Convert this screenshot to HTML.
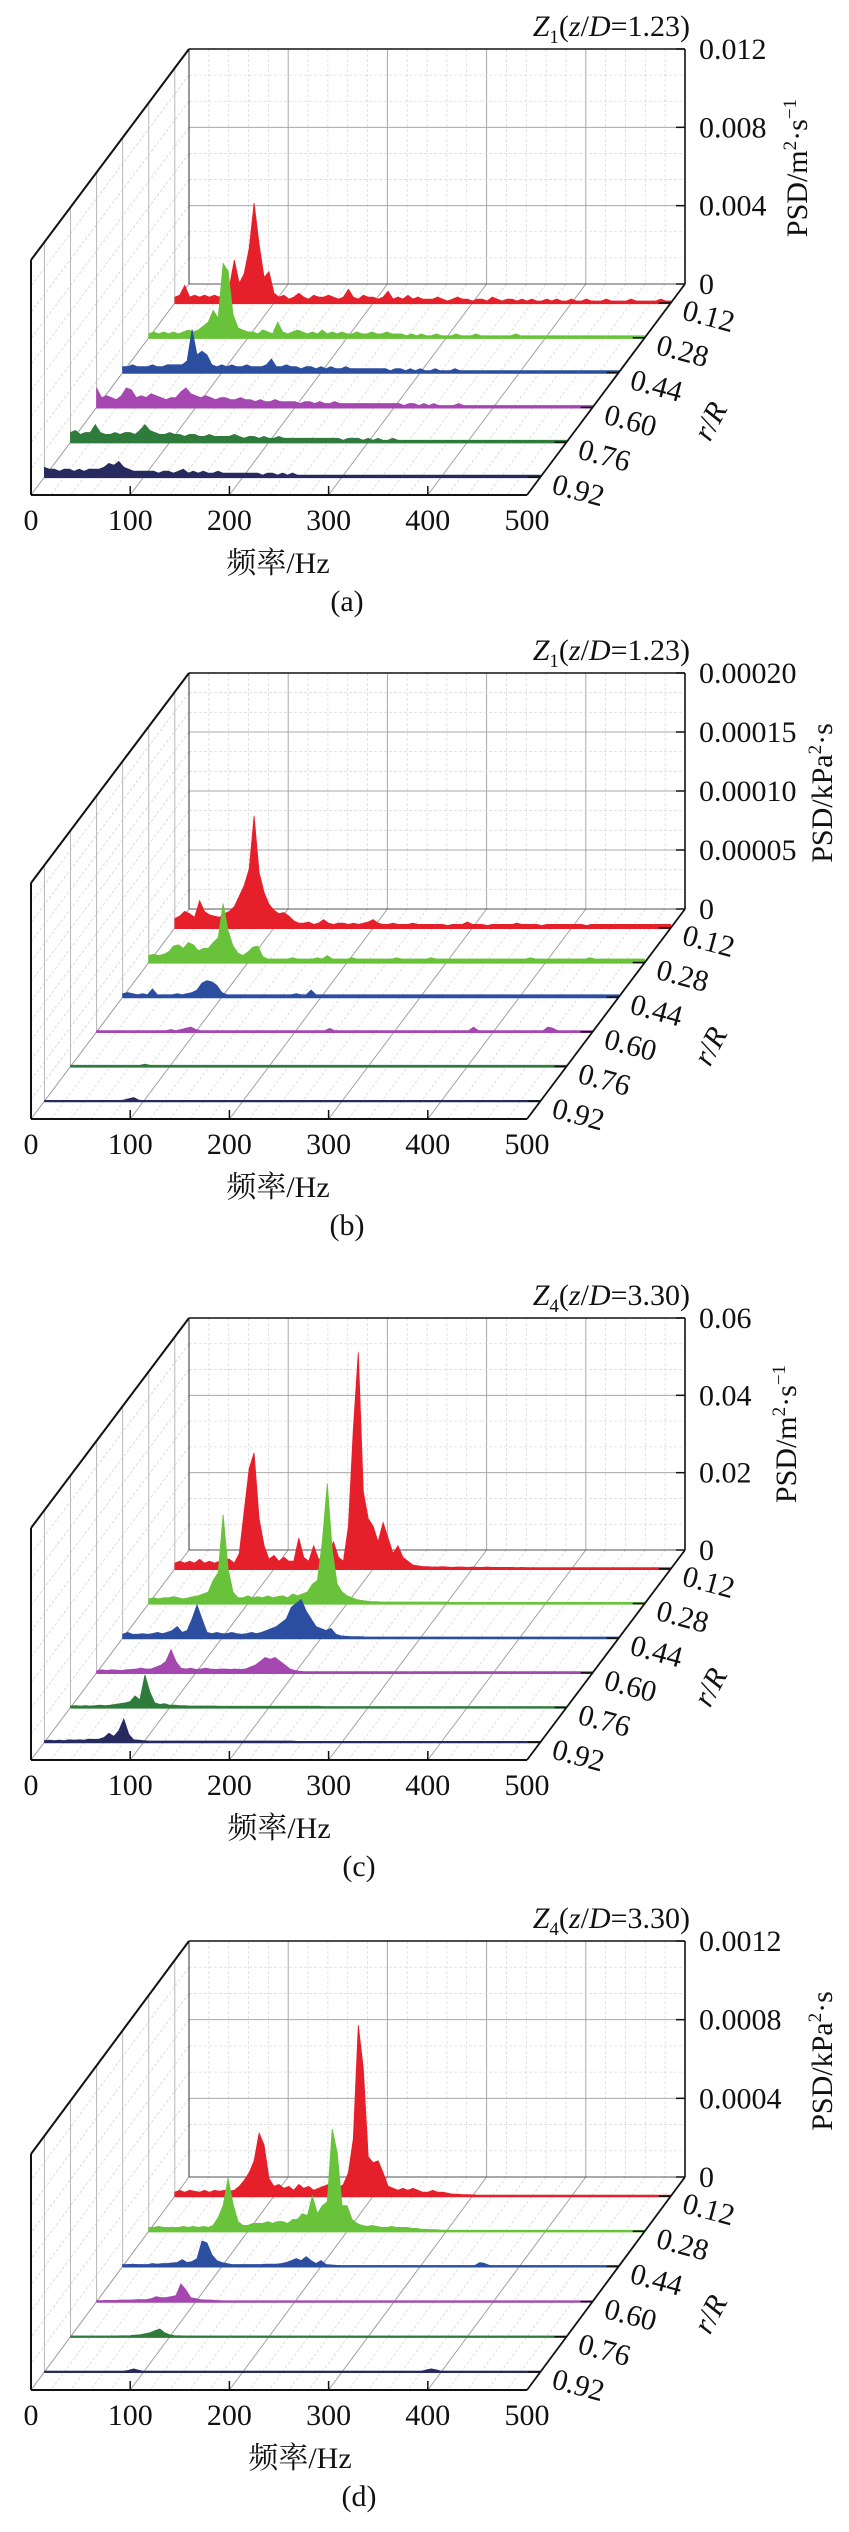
<!DOCTYPE html>
<html><head><meta charset="utf-8">
<style>
html,body{margin:0;padding:0;background:#fff;}
svg{display:block;}
text{font-family:"Liberation Serif","Noto Serif CJK SC",serif;fill:#111;}
.cjk{font-family:"Liberation Serif","Noto Serif CJK SC","Noto Sans CJK SC",serif;}
</style></head>
<body>
<svg id="fig" xmlns="http://www.w3.org/2000/svg" width="849" height="2532" viewBox="0 0 849 2532"></svg>
<script>
// ---------- DATA (frequency bins 0..500 Hz every 5 Hz) ----------
const FREQ_STEP = 5;
const rRLabels = ['0.12','0.28','0.44','0.60','0.76','0.92'];
const xTickLabels = ['0','100','200','300','400','500'];
const seriesColors = ['#e5202b','#68c23a','#2c4ea1','#a447b0','#2e7b3b','#262a5e'];

// Panel (a) velocity PSD, units 1e-4 m^2/s
const aTicks = ['0','0.004','0.008','0.012'];
const aYMax = 120;
const aRed = [3,4,9,3,4,3,4,3,4,3,6,8,22,10,15,28,51,30,13,16,5,
 3,4,2,3,5,3,2,4,3,3,4,3,2,3,7,3,2,4,3,3,2,3,6,2,3,2,4,2,3,2,
 2,2,3,2,1,2,3,2,2,1,2,2,1,3,2,1,2,2,1,2,1,2,1,1,2,1,2,1,1,2,1,1,2,1,1,1,2,1,1,1,1,2,1,1,1,1,1,2,1,1];
const aGreen = [2,3,2,3,2,3,2,3,4,3,4,6,8,14,10,38,34,12,5,4,3,
 3,2,4,3,2,8,3,2,3,4,3,2,3,2,4,2,3,2,3,2,2,3,2,2,3,2,2,3,2,2,
 2,1,2,1,2,1,1,2,1,1,1,2,1,1,1,2,1,1,1,1,1,1,1,2,1,1,1,1,1,1,1,1,1,1,1,1,1,1,1,1,1,1,1,1,1,1,1,1,1,1];
const aBlue = [3,3,4,3,3,3,4,3,3,4,4,4,4,6,22,9,11,9,4,3,4,
 3,4,3,3,4,3,3,3,4,7,3,3,4,3,3,2,3,3,2,3,2,3,2,2,3,2,2,2,2,2,
 2,2,2,1,2,2,1,2,1,2,1,1,2,1,1,1,2,1,1,1,1,1,1,1,1,1,1,1,1,1,1,1,1,1,1,1,1,1,1,1,1,1,1,1,1,1,1,1,1,1];
const aPurple = [10,5,6,5,4,6,10,9,5,6,5,7,6,5,4,5,5,8,10,7,6,
 5,6,5,4,5,5,4,4,5,4,4,3,4,3,3,4,3,3,3,3,2,3,3,2,3,2,2,3,2,2,
 2,2,2,2,2,2,2,2,2,2,2,1,2,2,1,2,1,2,1,1,1,1,2,1,1,1,1,1,1,1,1,1,1,1,1,1,1,1,1,1,1,1,1,1,1,1,1,1,1,1];
const aDkGreen = [5,6,4,5,5,9,5,4,4,5,4,5,5,4,6,9,6,5,4,4,5,
 4,4,3,4,4,3,3,4,3,3,3,3,4,3,2,3,3,2,3,2,2,3,2,2,2,2,2,2,2,2,
 2,2,2,2,1,2,2,2,1,2,1,2,1,1,2,1,1,1,1,1,1,1,1,1,1,1,1,1,1,1,1,1,1,1,1,1,1,1,1,1,1,1,1,1,1,1,1,1,1,1];
const aNavy = [5,4,4,3,4,4,3,4,3,4,4,4,5,7,6,8,5,4,3,3,3,
 3,3,2,3,3,2,3,4,2,3,2,3,2,2,3,2,2,2,2,2,2,2,2,1,2,2,1,2,1,2,
 1,1,1,1,1,1,1,1,1,1,1,1,1,1,1,1,1,1,1,1,1,1,1,1,1,1,1,1,1,1,1,1,1,1,1,1,1,1,1,1,1,1,1,1,1,1,1,1,1,1];

// Panel (b) pressure PSD, units 1e-6 kPa^2·s
const bTicks = ['0','0.00005','0.00010','0.00015','0.00020'];
const bYMax = 200;
const bRed = [8,10,14,12,9,23,14,11,10,9,12,14,18,27,36,50,95,47,30,20,15,
 12,13,10,6,4,4,5,3,4,7,4,3,4,4,3,4,3,4,5,7,4,3,3,4,3,3,3,4,3,3,
 3,3,3,3,2,3,3,3,5,3,3,3,2,3,3,3,3,3,4,3,3,3,3,2,3,3,3,3,3,3,3,3,2,3,3,3,3,3,3,3,3,3,3,3,3,3,3,3,3,3];
const bGreen = [6,7,6,7,9,14,15,12,17,15,10,12,12,17,21,50,27,14,8,6,9,
 13,14,5,3,3,3,3,3,4,3,3,3,3,4,3,6,3,3,3,3,4,3,3,3,3,3,3,3,3,4,
 3,3,3,3,3,3,4,3,3,3,3,3,3,3,3,3,3,3,3,3,3,3,3,3,3,3,4,3,3,3,3,3,3,3,3,3,3,3,4,3,3,3,3,3,3,3,3,3,3,3];
const bBlue = [3,4,3,2,3,2,7,2,2,2,2,3,2,3,4,6,12,14,13,10,4,
 2,2,2,2,2,2,2,2,2,2,2,2,2,2,3,2,2,6,2,2,2,2,2,2,2,2,2,2,2,2,
 2,2,2,2,2,2,2,2,2,2,2,2,2,2,2,2,2,2,2,2,2,2,2,2,2,2,2,2,2,2,2,2,2,2,2,2,2,2,2,2,2,2,2,2,2,2,2,2,2,2];
const bPurple = [1,1,1,1,1,1,1,1,1,1,1,1,1,1,1,2,1,2,3,4,2,
 1,1,1,1,1,1,1,1,1,1,1,1,1,1,1,1,1,1,1,1,1,1,1,1,1,1,3,1,1,1,
 1,1,1,1,1,1,1,1,1,1,1,1,1,1,1,1,1,1,1,1,1,1,1,1,1,4,1,1,1,1,1,1,1,1,1,1,1,1,1,1,4,3,1,1,1,1,1,1,1,1];
const bDkGreen = [1,1,1,1,1,1,1,1,1,1,1,1,1,1,1,2,1,1,1,1,1,
 1,1,1,1,1,1,1,1,1,1,1,1,1,1,1,1,1,1,1,1,1,1,1,1,1,1,1,1,1,1,
 1,1,1,1,1,1,1,1,1,1,1,1,1,1,1,1,1,1,1,1,1,1,1,1,1,1,1,1,1,1,1,1,1,1,1,1,1,1,1,1,1,1,1,1,1,1,1,1,1,1];
const bNavy = [.5,.5,.5,.5,.5,.5,.5,.5,.5,.5,.5,.5,.5,.5,.5,.5,1,2,3,1,.5,
 .5,.5,.5,.5,.5,.5,.5,.5,.5,.5,.5,.5,.5,.5,.5,.5,.5,.5,.5,.5,.5,.5,.5,.5,.5,.5,.5,.5,.5,.5,
 .5,.5,.5,.5,.5,.5,.5,.5,.5,.5,.5,.5,.5,.5,.5,.5,.5,.5,.5,.5,.5,.5,.5,.5,.5,.5,.5,.5,.5,.5,.5,.5,.5,.5,.5,.5,.5,.5,.5,.5,.5,.5,.5,.5,.5,.5,.5,.5,.5,.5];

// Panel (c) velocity PSD, units 1e-3 m^2/s
const cTicks = ['0','0.02','0.04','0.06'];
const cYMax = 60;
const cRed = [1.5,2,1.5,2,1.5,2.5,1.5,2,1.5,2,2.5,2.5,1.5,4,15,26,30,13,6,2.5,3.5,
 2,3,2,2,8,3,2,6,2.5,3,4,7,3,2,11,36,56,20,13,11,7,12,8,4,6,3,2,1,.8,.6,
 .6,.5,.5,.6,.5,.4,.5,.5,.4,.5,.4,.4,.5,.4,.4,.4,.4,.4,.3,.4,.3,.3,.3,.3,.3,.3,.3,.3,.3,.3,.3,.3,.3,.3,.3,.3,.3,.3,.3,.3,.3,.3,.3,.3,.3,.3,.3,.3,.3,.3];
const cGreen = [1.2,1.5,1.2,1.5,1.5,1.8,1.5,1.2,1.5,1.8,2,2.5,3,6,8,23,9,3,1.5,1.5,2,
 1.5,1.8,1.5,2,1.5,1.8,2,1.5,2.5,2,2.5,3,5,6,16,31,14,5,3,2,1.5,1,.8,.6,.5,.5,.4,.4,.4,.4,
 .4,.4,.4,.4,.4,.4,.4,.4,.4,.4,.3,.3,.3,.3,.3,.3,.3,.3,.3,.3,.3,.3,.3,.3,.3,.3,.3,.3,.3,.3,.3,.3,.3,.3,.3,.3,.3,.3,.3,.3,.3,.3,.3,.3,.3,.3,.3,.3,.3,.3];
const cBlue = [1,1.5,1,1,1.2,1,1.2,1.5,1.2,1.5,2,3,1.5,2,5,8.6,5,1.5,1.2,1.5,1.2,
 1.2,1.5,1.2,1,1.2,1.5,1.2,1.5,2,2.5,3,4,5,8,9,10,7,5,3,2.5,2,2.5,1,.6,.5,.4,.4,.4,.3,.3,
 .3,.3,.3,.3,.3,.3,.3,.3,.3,.3,.3,.3,.3,.3,.3,.3,.3,.3,.3,.3,.3,.3,.3,.3,.3,.3,.3,.3,.3,.3,.3,.3,.3,.3,.3,.3,.3,.3,.3,.3,.3,.3,.3,.3,.3,.3,.3,.3,.3,.3];
const cPurple = [.5,.8,.6,.8,.7,.6,.8,.9,1,1.2,1,1,1.5,2,3,6,3,1.2,1,1.2,.9,
 1,1.2,1,.9,1,1,.9,1,.9,1,1.5,2,3,4,3.5,4,3,2,1,.6,.4,.3,.3,.3,.3,.3,.3,.3,.3,.3,
 .3,.3,.3,.3,.3,.3,.3,.3,.3,.3,.3,.3,.3,.3,.3,.3,.3,.3,.3,.3,.3,.3,.3,.3,.3,.3,.3,.3,.3,.3,.3,.3,.3,.3,.3,.3,.3,.3,.3,.3,.3,.3,.3,.3,.3,.3,.3,.3,.3,.3];
const cDkGreen = [.4,.5,.4,.5,.4,.5,.6,.5,.6,.8,1,1.2,1.5,3,2,8.4,4,1.2,.8,1,.6,
 .6,.5,.5,.4,.4,.4,.4,.4,.4,.3,.3,.3,.3,.3,.3,.3,.3,.3,.3,.3,.3,.3,.3,.3,.3,.3,.3,.3,.3,.3,
 .2,.2,.2,.2,.2,.2,.2,.2,.2,.2,.2,.2,.2,.2,.2,.2,.2,.2,.2,.2,.2,.2,.2,.2,.2,.2,.2,.2,.2,.2,.2,.2,.2,.2,.2,.2,.2,.2,.2,.2,.2,.2,.2,.2,.2,.2,.2,.2,.2,.2];
const cNavy = [.4,.5,.4,.5,.4,.6,.5,.6,.5,.8,.7,.8,1.2,2.3,1.5,3,6,2,.6,.5,.4,
 .3,.3,.3,.3,.3,.3,.3,.3,.3,.3,.3,.3,.3,.3,.3,.3,.3,.3,.3,.3,.3,.3,.3,.3,.3,.3,.3,.3,.3,.3,
 .2,.2,.2,.2,.2,.2,.2,.2,.2,.2,.2,.2,.2,.2,.2,.2,.2,.2,.2,.2,.2,.2,.2,.2,.2,.2,.2,.2,.2,.2,.2,.2,.2,.2,.2,.2,.2,.2,.2,.2,.2,.2,.2,.2,.2,.2,.2,.2,.2,.2];

// Panel (d) pressure PSD, units 1e-5 kPa^2·s
const dTicks = ['0','0.0004','0.0008','0.0012'];
const dYMax = 120;
const dRed = [2,3,2,3,2.5,2,3,2,3,2.5,3,2.5,3,5,8,12,18,32,26,9,5,
 6,4,5,3,6,4,5,3,4,5,6,5,4,6,12,29,87,65,20,17,18,12,5,4,3,4,3,4,3,2,
 2,3,2,2,1.5,1,1,.8,.8,.7,.5,.5,.5,.5,.5,.5,.5,.5,.5,.5,.5,.5,.5,.5,.5,.5,.5,.5,.5,.5,.5,.5,.5,.5,.5,.5,.5,.5,.5,.5,.5,.5,.5,.5,.5,.5,.5,.5,.5,.5];
const dGreen = [2,2,2.5,2,2,2,2,2.5,2,2.5,2,2.5,2,3,7,13,27,14,5,3,3,
 4,4,4,5,4,5,5,4,6,6,9,8,18,9,13,15,52,40,13,13,6,4,3,2.5,3,2.5,2,2,2.5,2,
 2,2,1.5,1.5,1,1,.8,.8,.6,.6,.5,.5,.5,.5,.5,.5,.5,.5,.5,.5,.5,.5,.5,.5,.5,.5,.5,.5,.5,.5,.5,.5,.5,.5,.5,.5,.5,.5,.5,.5,.5,.5,.5,.5,.5,.5,.5,.5,.5,.5];
const dBlue = [1,1,1.2,1,1,1,1.5,1.2,1.5,1.5,1.8,2,3.5,2,2.5,4,13,12,6,3,2,
 1.5,1,1,1,1,1,1,1,1.2,1.2,1.2,1.5,2,3,4,3,5,3,1.5,3,1,.8,.6,.5,.5,.5,.5,.5,.5,.5,
 .5,.5,.5,.5,.5,.5,.5,.5,.5,.5,.5,.5,.5,.5,.5,.5,.5,.5,.5,.5,.5,2,1.5,.5,.5,.5,.5,.5,.5,.5,.5,.5,.5,.5,.5,.5,.5,.5,.5,.5,.5,.5,.5,.5,.5,.5,.5,.5,.5,.5];
const dPurple = [.5,.5,.6,.6,.6,.8,.8,.8,1,1,1,1.5,2.5,2,2,2.5,3,9,6,2,1.5,
 1,.8,.8,.6,.5,.4,.4,.4,.4,.4,.4,.4,.4,.4,.4,.4,.4,.4,.4,.4,.4,.4,.4,.4,.4,.4,.4,.4,.4,.4,
 .4,.4,.4,.4,.4,.4,.4,.4,.4,.4,.4,.4,.4,.4,.4,.4,.4,.4,.4,.4,.4,.4,.4,.4,.4,.4,.4,.4,.4,.4,.4,.4,.4,.4,.4,.4,.4,.4,.4,.4,.4,.4,.4,.4,.4,.4,.4,.4,.4,.4];
const dDkGreen = [.3,.3,.3,.3,.3,.3,.3,.3,.4,.4,.5,.5,.6,.8,1,1.5,2,3,4,2,1,
 .6,.5,.4,.3,.3,.3,.3,.3,.3,.3,.3,.3,.3,.3,.3,.3,.3,.3,.3,.3,.3,.3,.3,.3,.3,.3,.3,.3,.3,.3,
 .3,.3,.3,.3,.3,.3,.3,.3,.3,.3,.3,.3,.3,.3,.3,.3,.3,.3,.3,.3,.3,.3,.3,.3,.3,.3,.3,.3,.3,.3,.3,.3,.3,.3,.3,.3,.3,.3,.3,.3,.3,.3,.3,.3,.3,.3,.3,.3,.3,.3];
const dNavy = [.3,.3,.3,.3,.3,.3,.3,.3,.3,.3,.3,.3,.3,.3,.3,.3,.3,.8,1.5,.8,.3,
 .3,.3,.3,.3,.3,.3,.3,.3,.3,.3,.3,.3,.3,.3,.3,.3,.3,.3,.3,.3,.3,.3,.3,.3,.3,.3,.3,.3,.3,.3,
 .3,.3,.3,.3,.3,.3,.3,.3,.3,.3,.3,.3,.3,.3,.3,.3,.3,.3,.3,.3,.3,.3,.3,.3,.3,.3,1,1.5,1,.3,.3,.3,.3,.3,.3,.3,.3,.3,.3,.3,.3,.3,.3,.3,.3,.3,.3,.3,.3,.3];

// ---------- LAYOUT ----------
const NS = 'http://www.w3.org/2000/svg';
const svg = document.getElementById('fig');
const BX = 189, BW = 496, DX = -158, HZMAX = 500;

const panels = [
 {key:'a', top:49, floor:284, front:495, ticks:aTicks, ymax:aYMax, series:[aRed,aGreen,aBlue,aPurple,aDkGreen,aNavy],
  zsub:'1', zrest:'=1.23)', unit:'m2s', psdX:797, xtX:278, plX:347},
 {key:'b', top:673, floor:909, front:1119, ticks:bTicks, ymax:bYMax, series:[bRed,bGreen,bBlue,bPurple,bDkGreen,bNavy],
  zsub:'1', zrest:'=1.23)', unit:'kpa', psdX:822, xtX:278, plX:347},
 {key:'c', top:1318, floor:1550, front:1760, ticks:cTicks, ymax:cYMax, series:[cRed,cGreen,cBlue,cPurple,cDkGreen,cNavy],
  zsub:'4', zrest:'=3.30)', unit:'m2s', psdX:786, xtX:279, plX:359},
 {key:'d', top:1941, floor:2177, front:2390, ticks:dTicks, ymax:dYMax, series:[dRed,dGreen,dBlue,dPurple,dDkGreen,dNavy],
  zsub:'4', zrest:'=3.30)', unit:'kpa', psdX:822, xtX:300, plX:359}
];

function mk(tag, attrs, parent){
  const e = document.createElementNS(NS, tag);
  for (const k in attrs) e.setAttribute(k, attrs[k]);
  (parent||svg).appendChild(e);
  return e;
}
function line(g, x1,y1,x2,y2, stroke, w, dash){
  const a = {x1:x1,y1:y1,x2:x2,y2:y2,stroke:stroke,'stroke-width':w};
  if (dash) a['stroke-dasharray'] = dash;
  return mk('line', a, g);
}

panels.forEach(p => {
  const g = mk('g', {});
  
  
  const H = p.floor - p.top;          // wall height
  const D = p.front - p.floor;        // depth (vertical component)
  const ppu = H / p.ymax;
  const hzX = hz => BX + hz * BW / HZMAX;
  const nT = p.ticks.length;
  const tickY = i => p.floor - H * i / (nT - 1);
  const depthT = k => 0.09 + 0.165 * k;

  // ---- grid ----
  const grid = mk('g', {}, g);
  
  
  // back wall minor verticals (20 Hz) and majors (100 Hz)
  for (let hz = 20; hz < HZMAX; hz += 20) {
    const major = hz % 100 === 0;
    line(grid, hzX(hz), p.top, hzX(hz), p.floor, major ? '#a8a8a8' : '#dcdcdc', major ? 1 : 0.8, major ? null : '3,2');
    // floor lines
    line(grid, hzX(hz), p.floor, hzX(hz) + DX, p.front, major ? '#a0a0a0' : '#d8d8d8', major ? 1 : 0.8, major ? null : '3,2');
  }
  // horizontal (back) + left wall diagonals, 3 subdivisions per major
  const nSub = (nT - 1) * 3;
  for (let j = 1; j < nSub; j++) {
    const y = p.floor - H * j / nSub;
    const major = j % 3 === 0;
    line(grid, BX, y, BX + BW, y, major ? '#a8a8a8' : '#dcdcdc', major ? 1 : 0.8, major ? null : '3,2');
    line(grid, BX, y, BX + DX, y + D, '#d4d4d4', 0.8, '3,2');
  }
  // left wall verticals at series depths
  for (let k = 0; k < 6; k++) {
    const t = depthT(k);
    line(grid, BX + DX * t, p.top + D * t, BX + DX * t, p.floor + D * t, '#b8b8b8', 1);
  }
  // floor left edge / back floor edge / back-left edge
  line(grid, BX, p.floor, BX + DX, p.front, '#999', 1);
  line(grid, BX, p.floor, BX + BW, p.floor, '#555', 1);
  line(grid, BX, p.top, BX, p.floor, '#333', 1);

  // ---- series (back to front) ----
  for (let k = 0; k < 6; k++) {
    const vals = p.series[k];
    const t = depthT(k);
    const x0 = BX + DX * t, y0 = p.floor + D * t;
    let pts = [[x0, y0]];
    for (let i = 0; i < vals.length; i++) {
      pts.push([x0 + i * FREQ_STEP * BW / HZMAX, y0 - vals[i] * ppu]);
    }
    const xe = x0 + (vals.length - 1) * FREQ_STEP * BW / HZMAX;
    pts.push([xe, y0]);
    const poly = mk('polygon', {points: pts.map(q => q[0].toFixed(1) + ',' + q[1].toFixed(1)).join(' '),
      fill: seriesColors[k], stroke: seriesColors[k], 'stroke-width': 0.8, 'stroke-linejoin':'miter'}, g);
    
    
    const base = line(g, x0, y0, xe, y0, seriesColors[k], 2.2);
    
    
  }

  // ---- axes ----
  const ax = mk('g', {}, g);
  
  
  line(ax, BX, p.top, BX + BW, p.top, '#111', 1.6);
  line(ax, BX + BW, p.top, BX + BW, p.floor, '#111', 1.6);
  line(ax, BX, p.top, BX + DX, p.top + D, '#111', 2);
  line(ax, BX + DX, p.top + D, BX + DX, p.front, '#111', 2);
  line(ax, BX + DX, p.front, BX + BW + DX, p.front, '#111', 2);
  line(ax, BX + BW, p.floor, BX + BW + DX, p.front, '#111', 1.8);
  for (let i = 0; i < nT; i++) line(ax, BX + BW - 9, tickY(i), BX + BW, tickY(i), '#111', 1.5);
  for (let i = 1; i < xTickLabels.length - 1; i++) {
    const x = hzX(+xTickLabels[i]) + DX;
    line(ax, x, p.front, x, p.front - 9, '#111', 1.5);
  }
  for (let k = 0; k < 6; k++) {
    const t = depthT(k);
    const xr = BX + BW + DX * t, yr = p.floor + D * t;
    line(ax, xr - 12, yr, xr, yr, '#111', 1.6);
  }

  // ---- text ----
  const title = mk('text', {x: 690, y: p.top - 13, 'font-size': 30, 'text-anchor': 'end'}, g);
  
  
  title.innerHTML = '<tspan font-style="italic">Z</tspan><tspan font-size="19" dy="7">' + p.zsub +
    '</tspan><tspan dy="-7">(</tspan><tspan font-style="italic">z</tspan>/<tspan font-style="italic">D</tspan>' + p.zrest;

  for (let i = 0; i < nT; i++) {
    const tl = mk('text', {x: 699, y: tickY(i) + 10, 'font-size': 30}, g);
    
    
    tl.textContent = p.ticks[i];
  }
  for (let i = 0; i < xTickLabels.length; i++) {
    const x = hzX(+xTickLabels[i]) + DX;
    const tl = mk('text', {x: x, y: p.front + 35, 'font-size': 30, 'text-anchor': 'middle'}, g);
    
    
    tl.textContent = xTickLabels[i];
  }
  for (let k = 0; k < 6; k++) {
    const t = depthT(k);
    const cx = BX + BW + DX * t + 38, cy = p.floor + D * t + 13;
    const tl = mk('text', {x: cx, y: cy + 10, 'font-size': 30, 'text-anchor': 'middle',
      transform: 'rotate(15 ' + cx + ' ' + cy + ')'}, g);
    
    
    tl.textContent = rRLabels[k];
  }
  const rcx = 710, rcy = p.floor + 137;
  const rr = mk('text', {x: rcx, y: rcy + 10, 'font-size': 30, 'text-anchor': 'middle', transform: 'rotate(-62 ' + rcx + ' ' + rcy + ')'}, g);
  
  
  rr.innerHTML = '<tspan font-style="italic">r</tspan>/<tspan font-style="italic">R</tspan>';

  const pcx = p.psdX, pcy = p.floor - 116;
  const psd = mk('text', {x: pcx, y: pcy + 10, 'font-size': 30, 'text-anchor': 'middle', transform: 'rotate(-90 ' + pcx + ' ' + pcy + ')'}, g);
  
  
  if (p.unit === 'm2s') psd.innerHTML = 'PSD/m<tspan font-size="19" dy="-11">2</tspan><tspan dy="11">·s</tspan><tspan font-size="19" dy="-11">−1</tspan>';
  else psd.innerHTML = 'PSD/kPa<tspan font-size="19" dy="-11">2</tspan><tspan dy="11">·s</tspan>';

  const xt = mk('text', {x: p.xtX, y: p.front + 78, 'font-size': 30, 'text-anchor': 'middle', class: 'cjk'}, g);
  
  
  xt.textContent = '频率/Hz';

  const pl = mk('text', {x: p.plX, y: p.front + 116, 'font-size': 30, 'text-anchor': 'middle'}, g);
  
  
  pl.textContent = '(' + p.key + ')';
});
</script>
</body></html>
